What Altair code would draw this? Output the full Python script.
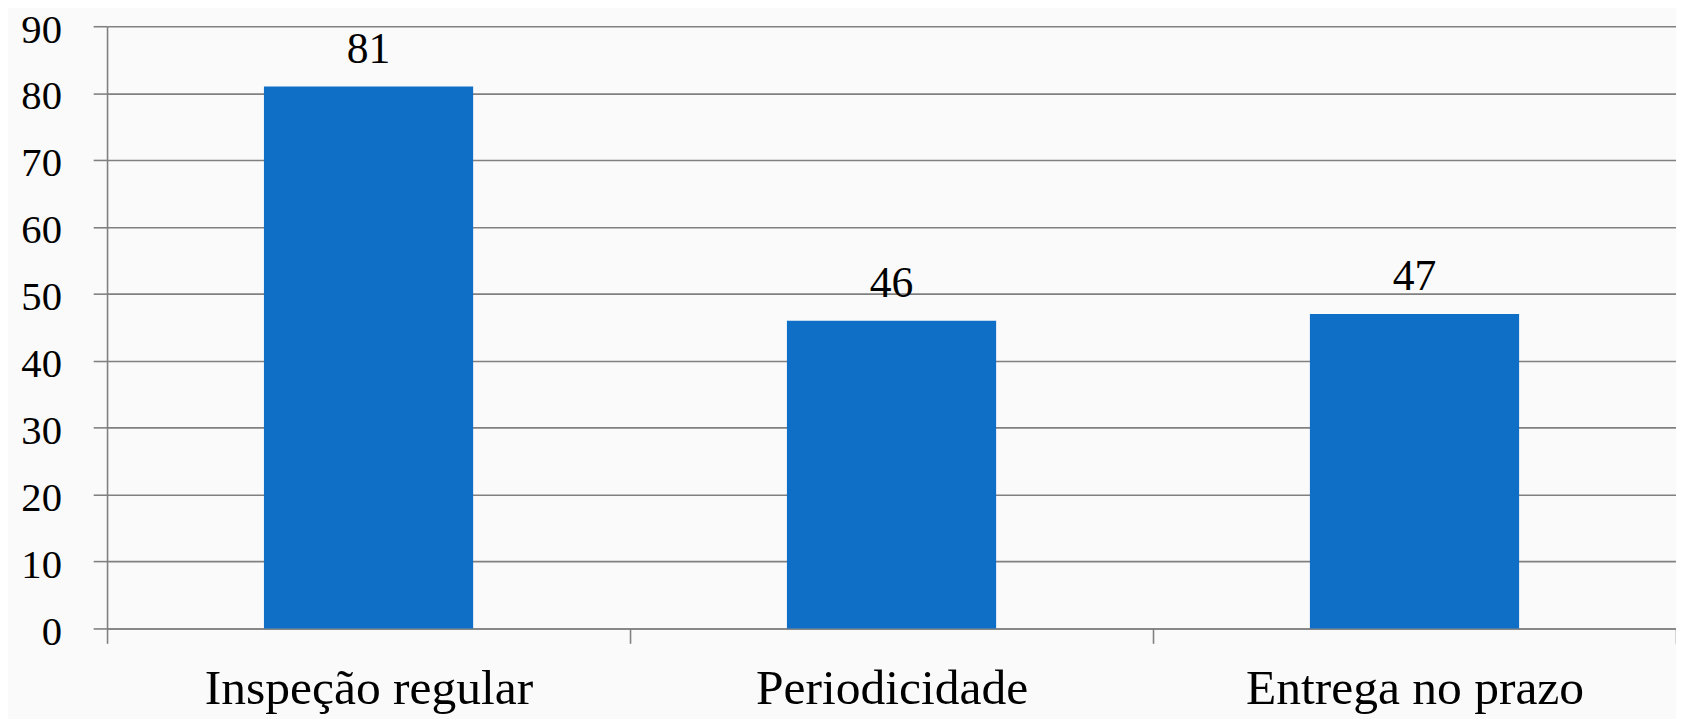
import altair as alt
import pandas as pd

categories = ["Inspeção regular", "Periodicidade", "Entrega no prazo"]
values = [81, 46, 47]
y_ticks = [0, 10, 20, 30, 40, 50, 60, 70, 80, 90]

df = pd.DataFrame({"categoria": categories, "valor": values})

FONT = "Liberation Serif"
GRID = "#808080"

x_enc = alt.X(
    "categoria:N",
    sort=categories,
    title=None,
    scale=alt.Scale(paddingInner=0, paddingOuter=0),
    axis=alt.Axis(
        labelAngle=0,
        labelFont=FONT,
        labelFontSize=50,
        labelColor="#000000",
        labelPadding=21,
        labelLimit=0,
        tickBand="extent",
        tickSize=15,
        tickColor=GRID,
        tickWidth=1.6,
        domainColor=GRID,
        domainWidth=1.6,
        grid=False,
    ),
)

y_enc = alt.Y(
    "valor:Q",
    title=None,
    scale=alt.Scale(domain=[0, 90], nice=False),
    axis=alt.Axis(
        values=y_ticks,
        labelFont=FONT,
        labelFontSize=41,
        labelColor="#000000",
        labelPadding=32,
        labelOffset=4,
        tickSize=14,
        tickColor=GRID,
        tickWidth=1.6,
        domainColor=GRID,
        domainWidth=1.6,
        grid=True,
        gridColor=GRID,
        gridWidth=1.6,
    ),
)

bars = alt.Chart(df).mark_bar(color="#0F6FC6", width={"band": 0.4}).encode(x=x_enc, y=y_enc)

labels = alt.Chart(df).mark_text(
    font=FONT,
    fontSize=44,
    color="#000000",
    align="center",
    baseline="alphabetic",
    dy=-24,
).encode(x=alt.X("categoria:N", sort=categories), y="valor:Q", text="valor:Q")

chart = (
    alt.layer(bars, labels)
    .properties(
        width=1584,
        height=608,
        background="#FAFAFA",
        padding={"left": 100, "top": 15, "right": 0, "bottom": 88},
        autosize=alt.AutoSizeParams(type="none"),
    )
    .configure_view(stroke=None)
)

chart.save("out.html", embed_options={"renderer": "svg", "actions": False})
